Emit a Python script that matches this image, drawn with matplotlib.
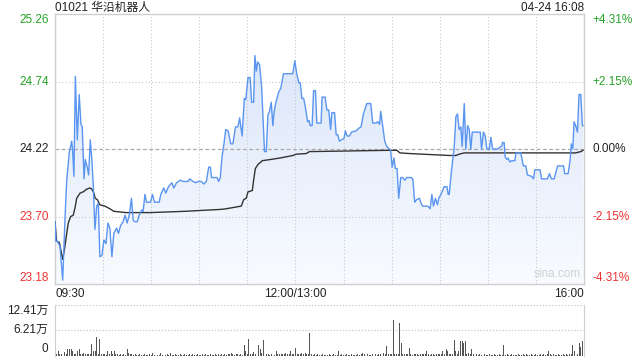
import matplotlib
matplotlib.use("Agg")
import matplotlib.pyplot as plt
import numpy as np
from matplotlib.patches import Polygon

FONT = ['Liberation Sans', 'Noto Sans CJK SC']
plt.rcParams['font.family'] = FONT

# ---- data (minute index from 09:30, lunch break removed) ----
prev_close = 24.22
y_ticks = [25.26, 24.74, 24.22, 23.70, 23.18]
pct_labels = ['+4.31%', '+2.15%', '0.00%', '-2.15%', '-4.31%']

price_t = [0, 0.6, 1.5, 3.1, 4.8, 6.2, 7.3, 8.9, 10.4, 11, 11.8, 12.7, 13.9, 15.1, 16.2, 17,
           18.1, 18.9, 20.1, 21, 22, 23, 23.9, 24.9, 26, 27, 28, 29.3, 30.5, 31.8, 33, 34.2,
           35.5, 36.7, 38.4, 39.6, 40.9, 42.5, 43.8, 45, 46.3, 47.7, 48.8, 50, 51.3, 52.5,
           54, 55, 56.1, 57.1, 59.6, 60.8, 62.1, 65, 66, 67.9, 69.1, 70.8, 72.9, 74.1, 75.8,
           78.2, 80, 83, 84, 86.1, 87.8, 89.2, 91.3, 92.8, 94.4, 95.9, 96.9, 97.7, 101.1,
           102.1, 103.1, 104.2, 105.4, 106.5, 108, 109.6, 111, 112.6, 114.1, 115.2, 116.7,
           118.1, 119, 120.4, 121.7, 122.7, 123.9, 124.7, 125.6, 126.4, 127.6, 128.9, 130.7,
           131.8, 132.8, 133.8, 134.9, 135.9, 136.7, 138, 139.6, 140.9, 142.5, 148.3, 149.6,
           150.8, 152.1, 153, 154, 155.1, 156.1, 157.6, 158.4, 159.2, 160.4, 161.3, 162.5,
           163.3, 166, 166.6, 168.5, 169.6, 170.8, 171.9, 172.7, 174.4, 175.4, 176.4, 177.4,
           178.5, 180.2, 181.2, 182.2, 183.7, 184.9, 187.8, 189.5, 190.9, 192.4, 194.5, 197,
           198.2, 200.3, 201.3, 202.4, 203.2, 204.4, 205.7, 206.9, 208.6, 209.4, 210.3, 211.5,
           212.3, 213.4, 214.4, 215.7, 216.9, 218.2, 219.4, 222.1, 223.2, 224.4, 225.6, 227.3,
           228.4, 229.4, 232.5, 234, 235.1, 236.1, 237.3, 238.6, 239.4, 240.7, 242.8, 244.5,
           245.3, 245.9, 247.4, 249, 250.1, 251.1, 252.1, 253.2, 254, 255.3, 256.3, 257.4,
           258.4, 259.4, 260.3, 265.3, 266.1, 267.3, 268.4, 269.4, 270.9, 271.9, 273, 276.1,
           277.1, 278.6, 279.2, 280.2, 280.8, 281.9, 282.7, 283.7, 284.8, 286.9, 287.5, 290.6,
           292.1, 293.7, 294.7, 297.2, 298.5, 299.3, 302.6, 303.5, 307.2, 308.4, 309.7, 311.4,
           313.5, 317.2, 318, 320.1, 321.3, 322.1, 323, 323.8, 324.8, 325.9, 326.9, 328, 329,
           329.4]
price = [23.66, 23.51, 23.51, 23.47, 23.21, 23.67, 23.98, 24.19, 24.28, 24.21, 24.01, 24.78,
         24.29, 24.64, 24.41, 24.39, 23.99, 24.14, 24.08, 24.02, 24.29, 24.14, 23.93, 23.60,
         23.78, 23.80, 23.39, 23.40, 23.52, 23.49, 23.65, 23.61, 23.39, 23.57, 23.61, 23.57,
         23.63, 23.66, 23.71, 23.65, 23.71, 23.84, 23.67, 23.66, 23.66, 23.71, 23.75, 23.74,
         23.87, 23.81, 23.81, 23.87, 23.81, 23.81, 23.87, 23.92, 23.88, 23.93, 23.96, 23.92,
         23.96, 23.98, 23.97, 23.97, 23.99, 23.97, 23.96, 23.97, 23.97, 23.95, 23.97, 24.08,
         24.08, 24.00, 24.00, 23.97, 24.00, 24.16, 24.26, 24.37, 24.36, 24.26, 24.26, 24.39,
         24.39, 24.46, 24.32, 24.61, 24.60, 24.77, 24.77, 24.58, 24.58, 24.94, 24.82, 24.89,
         24.87, 24.70, 24.20, 24.20, 24.48, 24.51, 24.58, 24.40, 24.51, 24.59, 24.66, 24.69,
         24.80, 24.80, 24.90, 24.80, 24.73, 24.73, 24.61, 24.61, 24.55, 24.43, 24.44, 24.40,
         24.40, 24.67, 24.67, 24.42, 24.42, 24.62, 24.62, 24.52, 24.52, 24.37, 24.50, 24.50,
         24.33, 24.33, 24.28, 24.29, 24.30, 24.36, 24.32, 24.32, 24.35, 24.36, 24.38, 24.39,
         24.49, 24.57, 24.57, 24.42, 24.42, 24.43, 24.41, 24.51, 24.40, 24.28, 24.24, 24.22,
         24.21, 24.08, 24.15, 24.07, 24.07, 23.84, 24.00, 24.00, 23.98, 24.00, 24.00, 23.99,
         23.81, 23.83, 23.84, 23.80, 23.78, 23.78, 23.76, 23.87, 23.78, 23.84, 23.79, 23.84,
         23.87, 23.93, 23.93, 23.87, 23.87, 24.06, 24.23, 24.47, 24.49, 24.37, 24.39, 24.24,
         24.57, 24.22, 24.40, 24.37, 24.22, 24.35, 24.35, 24.22, 24.35, 24.32, 24.22, 24.22,
         24.31, 24.22, 24.22, 24.23, 24.24, 24.27, 24.27, 24.16, 24.14, 24.15, 24.12, 24.13,
         24.13, 24.19, 24.19, 24.09, 24.09, 24.02, 24.01, 23.99, 24.06, 24.06, 23.99, 23.99,
         24.03, 23.99, 23.99, 24.09, 24.09, 24.03, 24.03, 24.13, 24.26, 24.22, 24.43, 24.40,
         24.35, 24.64, 24.64, 24.40, 24.40]

avg_t = [0, 1.0, 2.7, 4.8, 6.2, 7.3, 8.3, 9.8, 11.4, 12.7, 13.5, 15.6, 17.6, 19.7, 21.8, 23,
         24.3, 25.1, 26.4, 28, 31.1, 34.2, 36.7, 44.2, 59.1, 81, 103.8, 106.9, 116.2, 117.7,
         119.3, 120.4, 123.1, 123.9, 125, 126.6, 129.3, 134.9, 140.1, 148.4, 150.5, 156.7,
         158.8, 208.6, 213.2, 215.2, 221.1, 246.2, 250.1, 252.1, 255.3, 319.6, 324.8, 328,
         329.4]
avg = [23.66, 23.51, 23.50, 23.37, 23.47, 23.57, 23.65, 23.70, 23.71, 23.78, 23.84, 23.88,
       23.89, 23.91, 23.92, 23.91, 23.88, 23.84, 23.83, 23.79, 23.78, 23.76, 23.74, 23.73,
       23.73, 23.74, 23.755, 23.76, 23.78, 23.83, 23.84, 23.89, 23.90, 23.98, 24.07, 24.10,
       24.13, 24.14, 24.15, 24.17, 24.18, 24.185, 24.20, 24.21, 24.21, 24.19, 24.185, 24.17,
       24.17, 24.18, 24.19, 24.19, 24.19, 24.20, 24.21]

# volume per minute, in 万
volume = [
    1.0, 0.3, 1.16, 0.3, 0.4, 2.5, 0.8, 0.4, 1.5, 1.5,
    1.65, 1.0, 0.4, 0.3, 1.2, 1.65, 0.4, 0.3, 0.5, 0.3,
    0.3, 0.4, 0.3, 2.7, 1.2, 1.2, 4.6, 0.3, 4.0, 0.4,
    0.3, 0.3, 0.2, 1.2, 0.3, 1.0, 0.3, 1.2, 0.4, 0.3,
    0.2, 0.3, 0.2, 0.3, 0.2, 1.65, 0.7, 0.3, 0.4, 0.2,
    0.3, 0.2, 0.2, 0.3, 0.2, 0.2, 0.3, 0.2, 0.2, 0.3,
    0.2, 0.7, 0.2, 0.3, 0.2, 0.2, 0.5, 0.2, 0.3, 0.2,
    0.3, 0.2, 0.5, 0.2, 0.2, 0.3, 0.2, 0.2, 0.3, 0.2,
    0.2, 0.3, 0.2, 0.2, 0.3, 0.2, 0.3, 0.2, 0.2, 0.3,
    0.2, 0.2, 0.3, 0.2, 0.3, 0.2, 0.2, 0.3, 0.2, 0.2,
    0.3, 0.2, 0.3, 0.2, 0.4, 0.2, 0.3, 0.2, 0.4, 0.3,
    0.7, 0.3, 0.2, 0.4, 0.3, 0.2, 0.3, 0.2, 2.65, 1.2,
    0.3, 4.1, 0.3, 0.3, 0.8, 0.3, 12.41, 2.65, 1.65, 0.7,
    3.9, 2.5, 0.4, 0.3, 0.2, 0.3, 0.3, 0.2, 1.0, 0.3,
    0.3, 0.4, 0.3, 0.4, 0.5, 0.3, 0.3, 1.0, 0.4, 0.3,
    1.8, 0.3, 0.4, 0.3, 0.7, 0.3, 0.5, 0.3, 0.4, 5.4,
    0.3, 0.2, 0.3, 0.2, 0.3, 0.2, 0.2, 0.3, 0.2, 0.2,
    0.2, 0.3, 0.2, 0.2, 0.3, 0.2, 0.2, 1.2, 0.2, 0.3,
    0.2, 0.2, 0.3, 0.2, 0.2, 0.3, 0.2, 0.2, 0.2, 0.3,
    0.2, 0.3, 0.5, 0.3, 0.2, 0.3, 0.2, 0.2, 0.3, 0.3,
    0.3, 0.2, 0.3, 0.4, 0.3, 0.5, 0.3, 2.2, 0.3, 0.4,
    0.3, 8.6, 0.3, 0.4, 0.3, 7.9, 3.1, 0.3, 0.4, 0.3,
    0.3, 1.9, 0.3, 0.2, 0.3, 0.4, 0.3, 0.2, 0.3, 0.4,
    0.3, 0.4, 1.0, 0.3, 0.2, 0.3, 0.3, 0.2, 0.4, 0.3,
    0.3, 0.4, 1.2, 0.3, 1.5, 1.2, 0.3, 0.4, 0.3, 3.9,
    1.0, 0.3, 1.0, 3.6, 3.6, 3.0, 3.6, 0.3, 0.7, 0.3,
    1.5, 0.3, 0.2, 0.3, 0.2, 0.3, 0.2, 0.2, 0.3, 0.2,
    0.2, 0.3, 0.2, 0.2, 0.3, 0.2, 0.2, 0.3, 0.2, 0.2,
    2.5, 0.2, 0.3, 0.2, 0.2, 0.3, 0.2, 0.2, 0.2, 0.3,
    0.2, 0.2, 0.3, 0.2, 0.3, 0.2, 0.2, 0.3, 0.2, 0.2,
    0.3, 0.2, 0.2, 0.3, 0.2, 0.3, 0.2, 0.3, 1.2, 0.4,
    0.2, 0.3, 0.2, 0.2, 0.3, 0.2, 0.2, 0.3, 0.2, 0.3,
    0.2, 0.3, 0.3, 2.5, 1.0, 0.4, 0.3, 3.0, 2.1, 3.5,
    0.5]
vol_ticks = [0, 6.21, 12.41]
vol_labels = ['0', '6.21万', '12.41万']

GREEN = '#26a326'
RED = '#ee3333'
GRID = '#c8c8c8'
BORDER = '#cfcfcf'

fig = plt.figure(figsize=(6.4, 3.6), dpi=100)
ax = fig.add_axes([55 / 640, 1 - 284 / 360, 529 / 640, 270 / 360])
axv = fig.add_axes([55 / 640, 1 - 355.5 / 360, 529 / 640, 50.8 / 360])

lo, hi = y_ticks[-1], y_ticks[0]
ax.set_xlim(0, 330)
ax.set_ylim(lo, hi)

# gradient fill under the price line
grad = np.linspace(0, 1, 256).reshape(-1, 1)
top_c = np.array([0.84, 0.89, 0.98])
bot_c = np.array([0.975, 0.985, 1.0])
img = top_c * (1 - grad[..., None]) + bot_c * grad[..., None]
im = ax.imshow(img, extent=[0, 330, lo, hi], aspect='auto', origin='upper', zorder=1)
verts = list(zip(price_t, price)) + [(price_t[-1], lo), (price_t[0], lo)]
poly = Polygon(verts, closed=True, facecolor='none', edgecolor='none', transform=ax.transData)
ax.add_patch(poly)
im.set_clip_path(poly)

# grid
for x in range(30, 330, 30):
    ax.axvline(x, color=GRID, lw=0.8, ls=(0, (1, 2)), zorder=2)
for y in [24.74, 23.70]:
    ax.axhline(y, color=GRID, lw=0.8, ls=(0, (1, 2)), zorder=2)
ax.axhline(prev_close, color='#aaaaaa', lw=0.9, ls=(0, (3, 2)), zorder=2)

ax.plot(avg_t, avg, color='#333333', lw=1.0, zorder=3)
ax.plot(price_t, price, color='#5a95f0', lw=1.0, zorder=4)

ax.set_xticks([])
ax.set_yticks([])
for s in ax.spines.values():
    s.set_color(BORDER)
    s.set_linewidth(1.0)

colors = [GREEN, GREEN, '#222222', RED, RED]
valign = ['top', 'center', 'center', 'center', 'bottom']
for y, c, pl, va in zip(y_ticks, colors, pct_labels, valign):
    ax.text(-4, y, f'{y:.2f}', color=c, fontsize=8.5, ha='right', va=va)
    ax.text(335, y, pl, color=c, fontsize=8.5, ha='left', va=va)

ax.text(0, lo - 0.075, '09:30', fontsize=8.5, ha='left', va='center', color='#222222')
ax.text(150, lo - 0.075, '12:00/13:00', fontsize=8.5, ha='center', va='center', color='#222222')
ax.text(330, lo - 0.075, '16:00', fontsize=8.5, ha='right', va='center', color='#222222')
ax.text(328, lo + 0.03, 'sina.com', fontsize=8.5, ha='right', va='bottom', color='#d0d0d0')

fig.text(55 / 640, 1 - 8 / 360, '01021 华沿机器人', fontsize=8.5, ha='left', va='center',
         color='#222222', family=FONT)
fig.text(584 / 640, 1 - 8 / 360, '04-24 16:08', fontsize=8.5, ha='right', va='center',
         color='#222222')

# volume panel
axv.bar(np.arange(len(volume)), volume, width=0.6, color='#555555', zorder=3)
axv.set_xlim(0, 330)
axv.set_ylim(0, 12.41)
axv.axhline(12.41, color=GRID, lw=0.9, ls=(0, (1, 1.5)), zorder=2)
axv.axhline(6.21, color=GRID, lw=0.9, ls=(0, (1, 1.5)), zorder=2)
axv.set_xticks([])
axv.set_yticks([])
for k, s in axv.spines.items():
    s.set_color(BORDER)
    s.set_visible(k in ('left', 'right'))
for v, lab, va in zip(vol_ticks, vol_labels, ['bottom', 'center', 'top']):
    axv.text(-4, v, lab, fontsize=8.5, ha='right', va=va, color='#222222', family=FONT)

fig.savefig('out.png', dpi=100)
